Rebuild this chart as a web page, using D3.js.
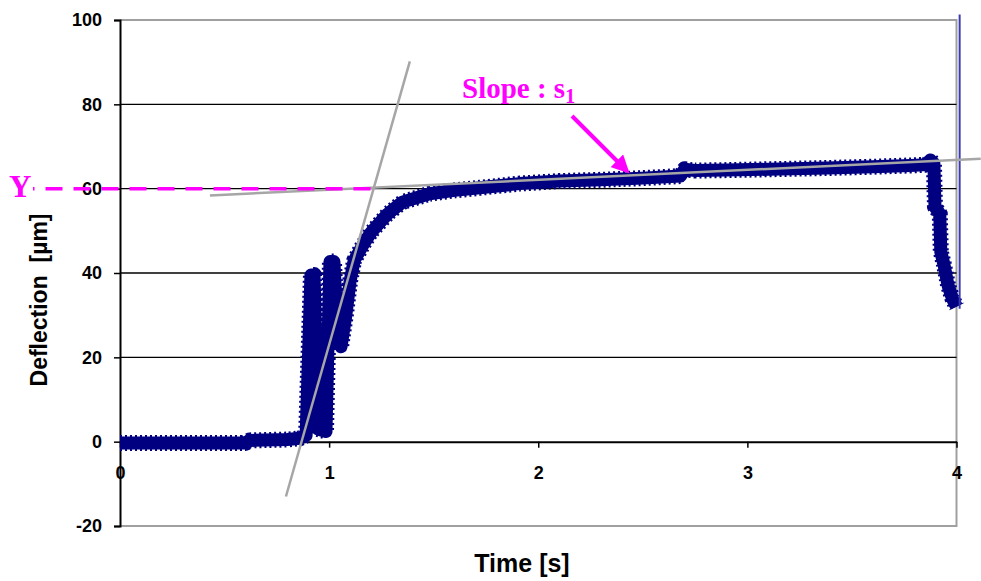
<!DOCTYPE html>
<html><head><meta charset="utf-8">
<script src="https://cdn.jsdelivr.net/npm/d3@7"></script>
<style>body{margin:0;background:#fff}svg{display:block}</style>
</head><body>
<script>
// ---- data ----
const time = [0,0.2,0.4,0.6,0.62,0.8,0.86,0.89,0.913,0.928,0.947,0.985,1.004,1.023,1.042,1.057,1.08,1.10,1.12,1.16,1.2,1.28,1.35,1.48,1.6,1.72,1.91,2.1,2.3,2.5,2.68,2.7,2.75,2.9,3.1,3.38,3.6,3.78,3.86,3.875,3.892,3.897,3.92,3.925,3.94,3.96,3.98,4.0];
const deflection = [-0.3,-0.3,-0.3,-0.3,0.3,0.5,0.8,1.5,39.5,39.5,3,2.4,42.7,42.7,24,22.5,30,38,43,46.5,49.6,54,56.8,58.8,59.6,60.2,61.2,61.8,62.1,62.5,63.0,64.6,64.3,64.4,64.6,64.9,65.2,65.5,65.7,66.8,66,55.7,54,45,42,37,34,32];
const jumpTime = [4.015, 4.015];
const jumpDeflection = [31.5, 101.3];
const yTicks = [-20, 0, 20, 40, 60, 80, 100];
const xTicks = [0, 1, 2, 3, 4];
const tangentTime = [0.7935, 1.386];
const tangentDefl = [-13, 90.2];
const slopeTime = [0.43, 4.116];
const slopeDefl = [58.4, 67.1];
const levelTime = [-0.416, 1.2];
const levelDefl = [60, 60];

const W = 981, H = 581;
const svg = d3.select("body").append("svg").attr("width", W).attr("height", H);
const x = d3.scaleLinear().domain([0, 4]).range([120, 956.5]);
const y = d3.scaleLinear().domain([-20, 100]).range([526, 20]);
const font = "'Liberation Sans', Arial, sans-serif";
const fmt = d => String(d);

// plot border (gray) top / right / bottom
svg.append("path")
  .attr("d", `M${x(0)},${y(100)}H${x(4)}V${y(-20)}H${x(0)}`)
  .attr("fill", "none").attr("stroke", "#a0a0a0").attr("stroke-width", 2);

// gridlines
svg.append("g").selectAll("line").data(yTicks.filter(v => v > 0 && v < 100)).join("line")
  .attr("x1", x(0)).attr("x2", x(4)).attr("y1", d => y(d)).attr("y2", d => y(d))
  .attr("stroke", "#000").attr("stroke-width", 1.4);

// y axis
const yAxis = svg.append("g").attr("transform", `translate(${x(0)},0)`)
  .call(d3.axisLeft(y).tickValues(yTicks).tickSize(6).tickFormat(fmt));
yAxis.select(".domain").attr("stroke", "#000").attr("stroke-width", 2);
yAxis.selectAll(".tick line").attr("stroke", "#000").attr("stroke-width", 1.5);
yAxis.selectAll("text").attr("font-family", font).attr("font-weight", "bold")
  .attr("font-size", 18).attr("fill", "#000").attr("x", -18);

// x axis at y=0
const xAxis = svg.append("g").attr("transform", `translate(0,${y(0)})`)
  .call(d3.axisBottom(x).tickValues(xTicks).tickSize(6).tickSizeOuter(0).tickFormat(fmt));
xAxis.select(".domain").attr("stroke", "#000").attr("stroke-width", 2);
xAxis.selectAll(".tick line").attr("stroke", "#000").attr("stroke-width", 1.5);
xAxis.selectAll("text").attr("font-family", font).attr("font-weight", "bold")
  .attr("font-size", 18).attr("fill", "#000").attr("y", 25);

// data band
const pts = time.map((t, i) => [t, deflection[i]]);
const line = d3.line().x(d => x(d[0])).y(d => y(d[1]));
svg.append("path").datum(pts).attr("d", line)
  .attr("fill", "none").attr("stroke", "#000080").attr("stroke-width", 13)
  .attr("stroke-linejoin", "round").attr("stroke-linecap", "butt");
svg.append("path").datum(pts).attr("d", line)
  .attr("fill", "none").attr("stroke", "#000080").attr("stroke-width", 16)
  .attr("stroke-dasharray", "2,3").attr("stroke-linejoin", "round");

// thin blue jump line
svg.append("path").datum(jumpTime.map((t, i) => [t, jumpDeflection[i]])).attr("d", line)
  .attr("fill", "none").attr("stroke", "#3b3bb0").attr("stroke-width", 2);

// gray tangent lines
[[tangentTime, tangentDefl], [slopeTime, slopeDefl]].forEach(([tt, vv]) => {
  svg.append("path").datum(tt.map((t, i) => [t, vv[i]])).attr("d", line)
    .attr("fill", "none").attr("stroke", "#a6a6a6").attr("stroke-width", 2.5);
});

// magenta dashed level line
svg.append("path").datum(levelTime.map((t, i) => [t, levelDefl[i]])).attr("d", line)
  .attr("fill", "none").attr("stroke", "#ff00ff").attr("stroke-width", 3.5)
  .attr("stroke-dasharray", "17,11").attr("stroke-dashoffset", 15.5);

// Y label
svg.append("text").attr("x", 9).attr("y", 197).text("Y")
  .attr("font-family", "'Liberation Serif', 'Times New Roman', serif").attr("font-weight", "bold")
  .attr("font-size", 31).attr("fill", "#ff00ff");

// Slope label
const sl = svg.append("text").attr("x", 462).attr("y", 98)
  .attr("font-family", "'Liberation Serif', 'Times New Roman', serif").attr("font-weight", "bold")
  .attr("font-size", 29).attr("fill", "#ff00ff");
sl.append("tspan").text("Slope : s");
sl.append("tspan").text("1").attr("font-size", 20).attr("dy", 5);

// arrow
const defs = svg.append("defs");
defs.append("marker").attr("id", "ah").attr("viewBox", "0 0 10 10").attr("refX", 8).attr("refY", 5)
  .attr("markerWidth", 4.5).attr("markerHeight", 4.5).attr("orient", "auto")
  .append("path").attr("d", "M0,0L10,5L0,10Z").attr("fill", "#ff00ff");
svg.append("line").attr("x1", 572).attr("y1", 116).attr("x2", 627).attr("y2", 171)
  .attr("stroke", "#ff00ff").attr("stroke-width", 4).attr("marker-end", "url(#ah)");

// axis titles
svg.append("text").attr("transform", "translate(47,300) rotate(-90)").attr("text-anchor", "middle")
  .attr("font-family", font).attr("font-weight", "bold").attr("font-size", 23).attr("fill", "#000")
  .text("Deflection\u00a0 [µm]");
svg.append("text").attr("x", 522).attr("y", 572).attr("text-anchor", "middle")
  .attr("font-family", font).attr("font-weight", "bold").attr("font-size", 25).attr("fill", "#000")
  .text("Time [s]");
</script>
</body></html>
